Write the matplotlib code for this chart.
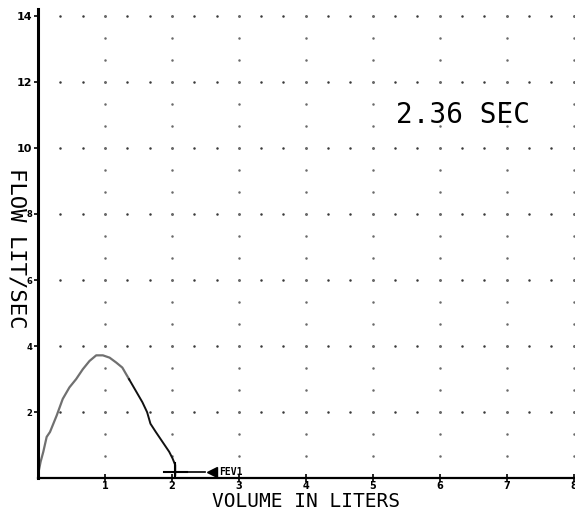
import matplotlib.pyplot as plt
import numpy as np

# flow-volume curve (liters, liters/sec)
volume = [0.0, 0.04, 0.08, 0.13, 0.18, 0.28, 0.37, 0.47, 0.57, 0.67, 0.77, 0.87,
          0.97, 1.07, 1.17, 1.26, 1.36, 1.46, 1.56, 1.63, 1.68, 1.76, 1.86, 1.96,
          2.01, 2.05, 2.05]
flow = [0.1, 0.5, 0.8, 1.25, 1.4, 1.9, 2.4, 2.75, 3.0, 3.3, 3.55, 3.72,
        3.72, 3.65, 3.5, 3.35, 3.0, 2.65, 2.3, 2.0, 1.65, 1.4, 1.1, 0.8,
        0.6, 0.4, 0.1]
peak_split = 16  # rising part drawn lighter, falling part darker

fev1 = 2.05
fev_time = "2.36 SEC"
x_ticks = [1, 2, 3, 4, 5, 6, 7, 8]
y_ticks = [2, 4, 6, 8, 10, 12, 14]

fig = plt.figure(figsize=(5.75, 5.12), dpi=100)
ax = fig.add_axes([0.066, 0.066, 0.934, 0.916])
ax.set_xlim(0, 8.02)
ax.set_ylim(0, 14.2)

# dotted plotter grid
for y in y_ticks:
    xs = np.arange(1, 25) / 3.0
    ax.plot(xs, [y] * len(xs), ls='none', marker='o', ms=1.8, mew=0, color='#3a3a3a')
for x in x_ticks:
    ys = np.arange(1, 22) * 2 / 3.0
    ax.plot([x] * len(ys), ys, ls='none', marker='o', ms=1.8, mew=0, color='#6a6a6a')

ax.plot(volume[:peak_split + 1], flow[:peak_split + 1], color='#707070', lw=1.6)
ax.plot(volume[peak_split:], flow[peak_split:], color='#111111', lw=1.4)

# FEV1 marker
ax.plot([fev1 - 0.17, fev1 + 0.17], [0.2, 0.2], color='black', lw=1.5)
ax.plot([fev1, fev1], [0.0, 0.45], color='black', lw=1.5)
ax.plot([fev1 + 0.17, fev1 + 0.45], [0.2, 0.2], color='black', lw=1.2)
ax.plot(fev1 + 0.55, 0.2, marker='<', ms=7, color='black')
ax.text(fev1 + 0.65, 0.2, "FEV1", fontsize=7, fontweight='bold',
        family='DejaVu Sans Mono', va='center', ha='left')

ax.text(6.35, 11.0, fev_time, fontsize=20, family='DejaVu Sans Mono',
        va='center', ha='center')

for s in ['top', 'right']:
    ax.spines[s].set_visible(False)
ax.spines['left'].set_linewidth(2.2)
ax.spines['bottom'].set_linewidth(1.6)

ax.set_xticks(x_ticks)
ax.set_xticklabels([str(v) for v in x_ticks], fontsize=7, fontweight='bold')
ax.set_yticks(y_ticks)
ax.set_yticklabels([str(v) for v in y_ticks], fontweight='bold')
for lab, v in zip(ax.get_yticklabels(), y_ticks):
    lab.set_fontsize(8 if v >= 10 else 6)
ax.tick_params(axis='x', direction='inout', length=6, width=1.2, pad=-1)
ax.tick_params(axis='y', direction='out', length=3, width=1.2, pad=1)

ax.set_xlabel("VOLUME IN LITERS", fontsize=14, family='DejaVu Sans Mono', va='center')
ax.xaxis.set_label_coords(0.5, -0.05)
ax.set_ylabel("FLOW LIT/SEC", fontsize=16, family='DejaVu Sans Mono',
              rotation=270, va='center')
ax.yaxis.set_label_coords(-0.04, 0.49)

fig.savefig('out.png', dpi=100)
